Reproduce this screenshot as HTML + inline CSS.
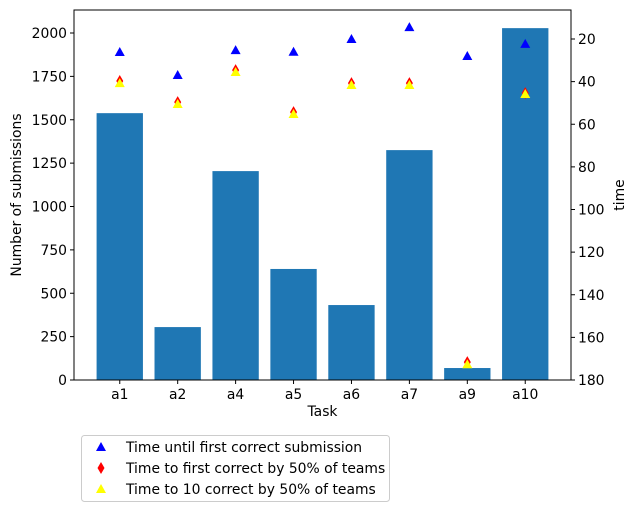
<!DOCTYPE html>
<html><head><meta charset="utf-8"><style>
body{margin:0;background:#fff;font-family:"Liberation Sans","DejaVu Sans",sans-serif;}
svg text{font-family:"DejaVu Sans","Liberation Sans",sans-serif;font-size:13.9px;fill:#000;}
</style></head><body>
<svg id="c" width="636" height="512"></svg>
<script>
const categories=["a1","a2","a4","a5","a6","a7","a9","a10"];
const submissions=[1538,305,1204,640,432,1325,69,2028];
const firstCorrect=[26.1,36.9,25.2,26,20,14.4,28,22.3];
const half50=[39.7,49.6,34.6,54.3,40.7,40.7,171.6,45.4];
const ten50=[40.7,50.5,35.5,55.2,41.6,41.6,172.6,45.8];
const leftTicks=[0,250,500,750,1000,1250,1500,1750,2000];
const rightTicks=[20,40,60,80,100,120,140,160,180];
const legendLabels=["Time until first correct submission","Time to first correct by 50% of teams","Time to 10 correct by 50% of teams"];

const L=74,R=571,T=10,B=380;
const NS="http://www.w3.org/2000/svg";
const svg=document.getElementById('c');
function mk(t,a,p){const e=document.createElementNS(NS,t);for(const k in a)e.setAttribute(k,a[k]);(p||svg).appendChild(e);return e;}
const step=(R-L)/(categories.length-1+0.8+0.78);
const xs=i=>L+(0.39+0.4+i)*step;
const yL=v=>B-v*(347/2000);
const yR=v=>39+(v-20)*(341/160);
categories.forEach((c,i)=>{
 const w=0.8*step;
 const r=mk('rect',{x:xs(i)-w/2,y:yL(submissions[i]),width:w,height:B-yL(submissions[i]),fill:'#1f77b4'});
 
 
});
function tri(x,y,col,name){const s=5;const p=mk('polygon',{points:`${x},${y-s} ${x-s},${y+s*0.8} ${x+s},${y+s*0.8}`,fill:col});return p;}
function dia(x,y,name){const p=mk('polygon',{points:`${x},${y-6} ${x-3.5},${y} ${x},${y+6} ${x+3.5},${y}`,fill:'red'});}
categories.forEach((c,i)=>{
 tri(xs(i),yR(firstCorrect[i]),'blue','first-correct-'+c);
 dia(xs(i),yR(half50[i]),'half-teams-'+c);
 tri(xs(i),yR(ten50[i]),'yellow','ten-correct-'+c);
});
mk('rect',{x:L,y:T,width:R-L,height:B-T,fill:'none',stroke:'#000','stroke-width':1});
leftTicks.forEach(v=>{const y=yL(v);mk('line',{x1:L-4,x2:L,y1:y,y2:y,stroke:'#000'});const t=mk('text',{x:L-7,y:y+5,'text-anchor':'end'});t.textContent=v;});
rightTicks.forEach(v=>{const y=yR(v);mk('line',{x1:R,x2:R+4,y1:y,y2:y,stroke:'#000'});const t=mk('text',{x:R+7,y:y+5});t.textContent=v;});
categories.forEach((c,i)=>{mk('line',{x1:xs(i),x2:xs(i),y1:B,y2:B+4,stroke:'#000'});const t=mk('text',{x:xs(i),y:B+19,'text-anchor':'middle'});t.textContent=c;});
let t=mk('text',{x:(L+R)/2,y:B+36,'text-anchor':'middle'});t.textContent='Task';
t=mk('text',{x:21,y:195,'text-anchor':'middle',transform:'rotate(-90 21 195)'});t.textContent='Number of submissions';
t=mk('text',{x:624,y:195,'text-anchor':'middle',transform:'rotate(-90 624 195)'});t.textContent='time';
const g=mk('g',{});
mk('rect',{x:81.5,y:435.5,width:308,height:66,rx:3,fill:'#fff',stroke:'#ccc'},g);
const ly=[447,468,489];
legendLabels.forEach((s,i)=>{
 const x=101;
 if(i==1){mk('polygon',{points:`${x},${ly[i]-6} ${x-3.5},${ly[i]} ${x},${ly[i]+6} ${x+3.5},${ly[i]}`,fill:'red'},g);}
 else{mk('polygon',{points:`${x},${ly[i]-5} ${x-5},${ly[i]+4} ${x+5},${ly[i]+4}`,fill:i==0?'blue':'yellow'},g);}
 const e=mk('text',{x:126,y:ly[i]+5},g);e.textContent=s;
});
</script>
</body></html>
